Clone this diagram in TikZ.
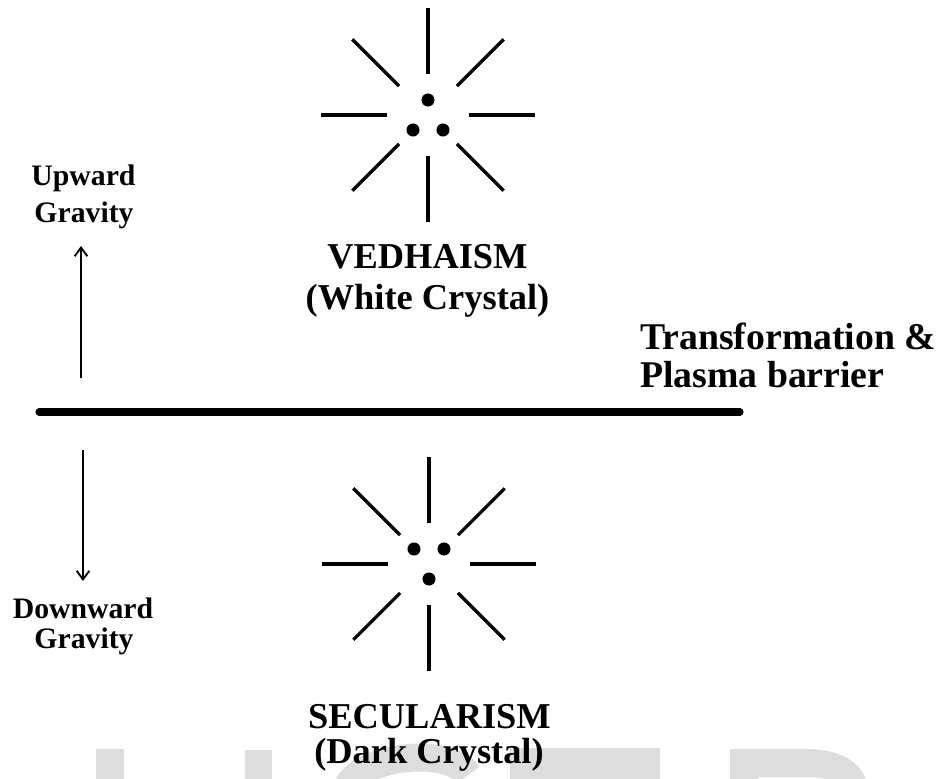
\documentclass[tikz,border=0pt]{standalone}
\usepackage{fontspec}
\setmainfont{Liberation Serif}
\usetikzlibrary{arrows.meta,calc}
\definecolor{wm}{HTML}{DDDDDD}
\tikzset{
  ray/.style={line width=2.4pt,line cap=butt},
  dotfill/.style={fill=black},
  barrier/.style={line width=5.3pt,line cap=round},
  gravarrow/.style={line width=1.4pt,-{Straight Barb[length=6.5pt,width=9.5pt,line width=1.4pt]}},
  bigtxt/.style={font=\bfseries\fontsize{27.3}{30}\selectfont,inner sep=0pt,anchor=base},
  midtxt/.style={font=\bfseries\fontsize{28.3}{30}\selectfont,inner sep=0pt,anchor=base west},
  smalltxt/.style={font=\bfseries\fontsize{22.3}{26}\selectfont,inner sep=0pt,anchor=base},
  wmark/.style={fill=wm,draw=none}
}
\begin{document}
\begin{tikzpicture}[x=0.75pt,y=-0.75pt]
\useasboundingbox (0,0) rectangle (942,778);
\begin{scope}
\clip (0,0) rectangle (942,778);
% watermark (faint, cut off at bottom)
\fill[wmark] (96,749) rectangle (124,790);
\fill[wmark] (245,750) rectangle (272,790);
\draw[wm,line width=21pt] (345,795) .. controls (350,755) and (450,745) .. (468,775);
\fill[wmark] (510,748) rectangle (660,790);
\fill[wmark] (730,749) -- (805,749) .. controls (845,749) and (866,765) .. (868,790)
  -- (840,790) .. controls (837,781) and (825,777) .. (805,777) -- (758,777)
  -- (758,790) -- (730,790) -- cycle;
\end{scope}

% crystal centres
\coordinate (vc) at (428,115);
\coordinate (sc) at (429,564);

% VEDHAISM crystal
\foreach \a in {0,45,...,315}
  \draw[ray] ($(vc)+(\a:41)$) -- ($(vc)+(\a:107)$);
\fill[dotfill] (428,100) circle[radius=4.9pt];
\fill[dotfill] (413,130) circle[radius=4.9pt];
\fill[dotfill] (443,130) circle[radius=4.9pt];

% SECULARISM crystal
\foreach \a in {0,45,...,315}
  \draw[ray] ($(sc)+(\a:41)$) -- ($(sc)+(\a:107)$);
\fill[dotfill] (414,549) circle[radius=4.9pt];
\fill[dotfill] (444,549) circle[radius=4.9pt];
\fill[dotfill] (429,579) circle[radius=4.9pt];

% barrier
\coordinate (bl) at (39,412);
\coordinate (br) at (740,412);
\draw[barrier] (bl) -- (br);

% gravity arrows
\coordinate (ua0) at (81,378);
\coordinate (ua1) at (81,246);
\coordinate (da0) at (83,450);
\coordinate (da1) at (83,581);
\draw[gravarrow] (ua0) -- (ua1);
\draw[gravarrow] (da0) -- (da1);

% labels
\node[bigtxt] (ved1) at (427.5,268) {VEDHAISM};
\node[bigtxt] (ved2) at (427.5,309) {(White Crystal)};
\node[bigtxt] (sec1) at (429.5,728) {SECULARISM};
\node[bigtxt] (sec2) at (429,763) {(Dark Crystal)};
\node[midtxt] (tr1) at (640,349) {Transformation \&};
\node[midtxt] (tr2) at (640,387) {Plasma barrier};
\node[smalltxt] (up1) at (83.5,185) {Upward};
\node[smalltxt] (up2) at (84,222) {Gravity};
\node[smalltxt] (dn1) at (83,618) {Downward};
\node[smalltxt] (dn2) at (84,648) {Gravity};
\end{tikzpicture}
\end{document}
